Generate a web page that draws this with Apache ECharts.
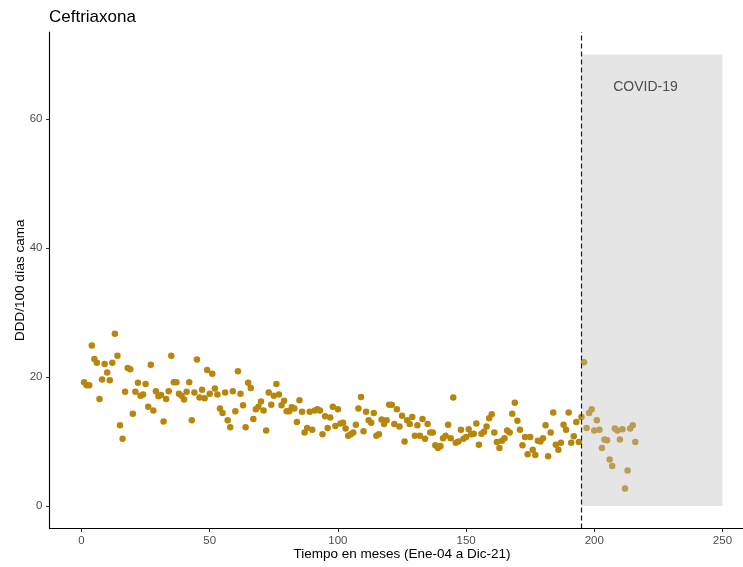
<!DOCTYPE html>
<html>
<head>
<meta charset="utf-8">
<title>Ceftriaxona</title>
<script src="https://cdn.jsdelivr.net/npm/echarts@6/dist/echarts.min.js"></script>
<style>
  html, body { margin: 0; padding: 0; background: #ffffff; }
  #chart { width: 743px; height: 567px; }
</style>
</head>
<body>
<div id="chart"></div>
<script>
// Monthly ceftriaxone consumption, DDD per 100 bed-days, Jan-04 .. Dec-21 (month 1..216)
const ddd = [
  19.2, 18.7, 18.7, 24.9, 22.8, 22.2, 16.6, 19.6, 22.0, 20.7,
  19.5, 22.2, 26.7, 23.3, 12.5, 10.4, 17.7, 21.4, 21.2, 14.3,
  17.7, 19.1, 17.1, 17.3, 18.9, 15.4, 21.9, 14.8, 17.8, 17.0,
  17.2, 13.1, 16.6, 17.8, 23.3, 19.2, 19.2, 17.4, 17.1, 16.5,
  17.7, 19.2, 13.3, 17.6, 22.7, 16.8, 18.0, 16.7, 21.1, 17.4,
  20.5, 18.2, 17.3, 15.1, 14.4, 17.6, 13.3, 12.2, 17.8, 14.7,
  20.9, 17.4, 15.6, 12.2, 19.1, 18.3, 13.5, 15.0, 15.4, 16.2,
  14.8, 11.7, 17.6, 15.7, 17.1, 18.9, 17.3, 15.6, 16.3, 14.7,
  14.7, 15.3, 15.1, 13.0, 16.4, 14.6, 11.4, 12.1, 14.6, 11.8,
  14.8, 15.0, 14.8, 11.1, 13.9, 12.1, 13.7, 15.4, 12.4, 15.0,
  12.8, 12.9, 12.0, 10.9, 11.1, 11.4, 12.6, 15.1, 16.9, 11.6,
  14.6, 13.3, 12.9, 14.4, 10.9, 11.1, 13.4, 12.7, 13.3, 15.7,
  15.7, 12.7, 15.0, 12.3, 14.0, 10.0, 13.3, 12.7, 13.8, 10.9,
  12.5, 10.9, 13.5, 10.4, 12.7, 11.4, 11.4, 9.4, 9.0, 9.3,
  10.5, 10.9, 12.6, 10.5, 16.8, 9.8, 10.0, 11.8, 10.4, 10.7,
  11.9, 11.1, 11.2, 12.8, 9.5, 11.2, 11.5, 12.3, 13.6, 14.2,
  11.4, 9.9, 9.0, 10.1, 10.5, 11.7, 11.4, 14.3, 16.0, 13.2,
  11.8, 9.4, 10.7, 8.0, 10.7, 8.7, 7.9, 10.1, 10.0, 10.5,
  12.5, 7.7, 11.4, 14.5, 9.5, 8.7, 9.8, 12.6, 11.8, 14.5,
  9.8, 10.8, 13.0, 9.9, 13.8, 22.3, 12.1, 14.4, 15.0, 11.7,
  13.3, 11.8, 9.0, 10.3, 10.2, 7.2, 6.2, 12.0, 11.7, 10.3,
  11.9, 2.7, 5.5, 12.0, 12.5, 9.9
];

// Axis ticks
const xTicks = [0, 50, 100, 150, 200, 250];
const yTicks = [0, 20, 40, 60];

// COVID-19 period: start month, shaded band extent
const covidStart = 195;
const covidBand = [195, 0, 250, 70];
const covidLabel = [220, 65, 'COVID-19'];

const FONT = '"Liberation Sans", Arial, Helvetica, sans-serif';

const points = ddd.map((v, i) => [i + 1, v]);

const chart = echarts.init(document.getElementById('chart'), null, { renderer: 'canvas' });

chart.setOption({
  animation: false,
  backgroundColor: '#ffffff',
  textStyle: { fontFamily: FONT },
  title: {
    text: 'Ceftriaxona',
    left: 49,
    top: 9,
    padding: 0,
    textStyle: { fontFamily: FONT, fontSize: 17, fontWeight: 'normal', color: '#000000' }
  },
  grid: {
    left: 49.5, right: -11.5, top: 32, bottom: 38.5,
    containLabel: false,
    outerBoundsMode: 'none'
  },
  xAxis: {
    type: 'value',
    min: -12.5,
    max: 262.5,
    name: 'Tiempo en meses (Ene-04 a Dic-21)',
    nameLocation: 'middle',
    nameGap: 19,
    nameMoveOverlap: false,
    nameTextStyle: { fontFamily: FONT, fontSize: 13.5, color: '#000000', verticalAlign: 'top' },
    axisLine: { show: true, onZero: false, lineStyle: { color: '#000000', width: 1.1 } },
    axisTick: { show: true, customValues: xTicks, length: 3.5, lineStyle: { color: '#333333', width: 1 } },
    axisLabel: { customValues: xTicks, color: '#4d4d4d', fontSize: 11.5, margin: 6, fontFamily: FONT },
    splitLine: { show: false }
  },
  yAxis: {
    type: 'value',
    min: -3.5,
    max: 73.5,
    name: 'DDD/100 días cama',
    nameLocation: 'middle',
    nameRotate: 90,
    nameGap: 22,
    nameMoveOverlap: false,
    nameTextStyle: { fontFamily: FONT, fontSize: 13.5, color: '#000000' },
    axisLine: { show: true, onZero: false, lineStyle: { color: '#000000', width: 1.1 } },
    axisTick: { show: true, customValues: yTicks, length: 3.5, lineStyle: { color: '#333333', width: 1 } },
    axisLabel: { customValues: yTicks, color: '#4d4d4d', fontSize: 11.5, margin: 7, fontFamily: FONT },
    splitLine: { show: false }
  },
  series: [
    {
      type: 'scatter',
      data: points,
      symbol: 'circle',
      symbolSize: 6.5,
      itemStyle: { color: '#B8860B', opacity: 1 },
      z: 2,
      silent: true
    },
    {
      // translucent band over the pandemic months (drawn above the points)
      type: 'custom',
      data: [covidBand],
      z: 3,
      silent: true,
      renderItem: function (params, api) {
        const p0 = api.coord([api.value(0), api.value(3)]);
        const p1 = api.coord([api.value(2), api.value(1)]);
        return {
          type: 'rect',
          shape: { x: p0[0], y: p0[1], width: p1[0] - p0[0], height: p1[1] - p0[1] },
          style: { fill: 'rgba(190,190,190,0.4)' }
        };
      }
    },
    {
      type: 'custom',
      data: [covidLabel],
      z: 4,
      silent: true,
      renderItem: function (params, api) {
        const p = api.coord([api.value(0), api.value(1)]);
        return {
          type: 'text',
          x: p[0],
          y: p[1],
          style: {
            text: covidLabel[2],
            fill: '#4d4d4d',
            font: '14px ' + FONT,
            align: 'center',
            verticalAlign: 'middle'
          }
        };
      }
    },
    {
      // pandemic onset marker
      type: 'scatter',
      data: [],
      z: 5,
      silent: true,
      markLine: {
        silent: true,
        symbol: ['none', 'none'],
        label: { show: false },
        lineStyle: { color: '#1a1a1a', width: 1.2, type: [5, 3] },
        data: [{ xAxis: covidStart }],
        animation: false
      }
    }
  ]
});
</script>
</body>
</html>
